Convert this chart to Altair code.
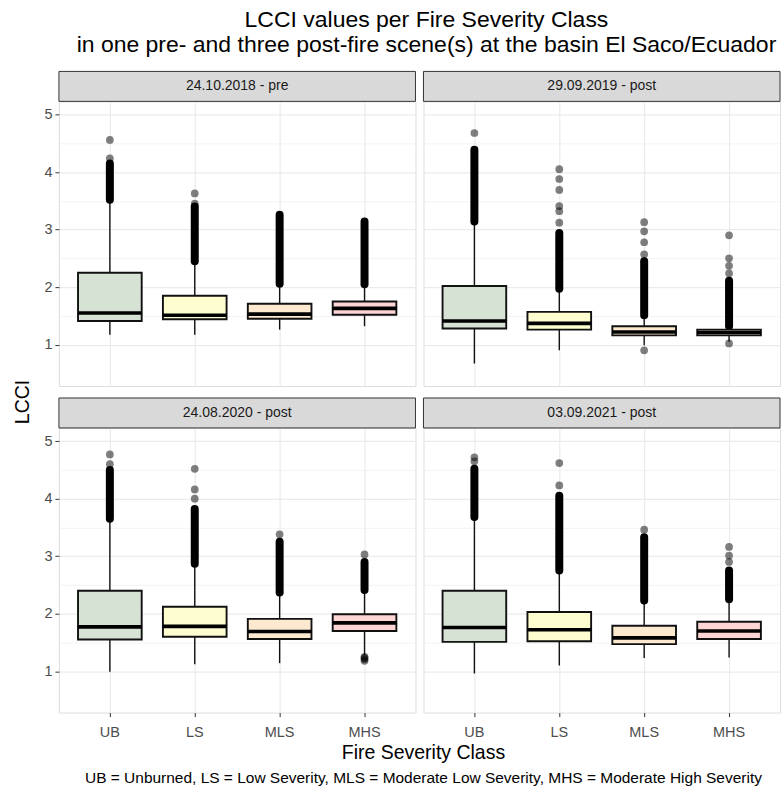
import altair as alt
import pandas as pd

# ---------------- data ----------------
panels = ["24.10.2018 - pre", "29.09.2019 - post", "24.08.2020 - post", "03.09.2021 - post"]
classes = ["UB", "LS", "MLS", "MHS"]
fill_colors = ["#d6e2d3", "#fdfdd0", "#fde9d0", "#fdd5d5"]

# box statistics, panel-major order (UB, LS, MLS, MHS per panel)
lower = [1.17, 1.17, 1.26, 1.32, 0.67, 0.90, 0.99, 1.05, 0.99, 1.12, 1.14, 1.28, 0.96, 1.10, 1.23, 1.24]
q1 = [1.41, 1.44, 1.45, 1.52, 1.28, 1.26, 1.16, 1.16, 1.55, 1.60, 1.56, 1.70, 1.51, 1.52, 1.47, 1.56]
median = [1.55, 1.51, 1.53, 1.63, 1.41, 1.37, 1.22, 1.21, 1.77, 1.78, 1.69, 1.84, 1.76, 1.72, 1.58, 1.70]
q3 = [2.25, 1.85, 1.71, 1.75, 2.02, 1.57, 1.32, 1.26, 2.40, 2.12, 1.91, 1.99, 2.40, 2.03, 1.79, 1.86]
upper = [3.52, 2.45, 2.06, 2.05, 3.14, 1.97, 1.51, 1.32, 3.65, 2.87, 2.37, 2.41, 3.68, 2.75, 2.23, 2.25]
# upper end of the dense run of outliers above the whisker
dense_top = [4.15, 3.40, 3.26, 3.14, 4.39, 2.94, 2.45, 2.11, 4.50, 3.82, 3.25, 2.90, 4.52, 4.05, 3.33, 2.75]

# individual (sparse) outliers
out_panel = [0, 0, 0, 0,
             1, 1, 1, 1, 1, 1, 1, 1, 1, 1, 1, 1, 1, 1, 1, 1, 1,
             2, 2, 2, 2, 2, 2, 2, 2, 2, 2, 2,
             3, 3, 3, 3, 3, 3, 3, 3]
out_class = ["UB", "UB", "LS", "LS",
             "UB", "LS", "LS", "LS", "LS", "LS", "LS", "MLS", "MLS", "MLS", "MLS", "MLS", "MHS", "MHS", "MHS", "MHS", "MHS",
             "UB", "UB", "LS", "LS", "LS", "MLS", "MHS", "MHS", "MHS", "MHS", "MHS",
             "UB", "UB", "LS", "LS", "MLS", "MHS", "MHS", "MHS"]
out_value = [4.56, 4.24, 3.63, 3.45,
             4.68, 3.12, 3.32, 3.41, 3.69, 3.88, 4.05, 2.57, 2.78, 2.97, 3.13, 0.90, 2.24, 2.37, 2.50, 2.90, 1.02,
             4.60, 4.77, 4.00, 4.16, 4.52, 3.38, 3.03, 1.25, 1.23, 1.21, 1.18,
             4.65, 4.72, 4.23, 4.62, 3.46, 2.90, 3.01, 3.16]

title_lines = ["LCCI values per Fire Severity Class",
               "in one pre- and three post-fire scene(s) at the basin El Saco/Ecuador"]
y_title = ["LCCI"]
x_title = ["Fire Severity Class"]
caption = ["UB = Unburned, LS = Low Severity, MLS = Moderate Low Severity, MHS = Moderate High Severity"]
y_ticks = [1, 1.5, 2, 2.5, 3, 3.5, 4, 4.5, 5]

# ---------------- tables ----------------
stats = pd.DataFrame({
    "panel": [p for p in panels for _ in classes],
    "cls": classes * len(panels),
    "lo": lower, "q1": q1, "med": median, "q3": q3, "hi": upper, "dtop": dense_top,
})
outs = pd.DataFrame({"panel": [panels[i] for i in out_panel], "cls": out_class, "value": out_value})

W, H = 357, 285
FONT = "Liberation Sans"
GRID = "#ebebeb"

y_scale = alt.Scale(domain=[0.28, 5.23], nice=False, zero=False)
x_scale = alt.Scale(domain=classes, paddingInner=0, paddingOuter=0.1)


def xenc(show):
    return alt.X("cls:N", sort=classes, scale=x_scale,
                 axis=alt.Axis(title=None, labels=show, ticks=show, domain=False, grid=True,
                               gridColor=GRID, gridWidth=1.2, bandPosition=0.5, labelAngle=0,
                               tickColor="#333333", tickSize=4, tickWidth=1, labelFontSize=14.5,
                               labelColor="#4d4d4d", labelPadding=9, labelFont=FONT))


def yenc(field, show):
    return alt.Y(f"{field}:Q", scale=y_scale,
                 axis=alt.Axis(values=y_ticks, title=None, labels=show, ticks=show, domain=False,
                               labelExpr="datum.value % 1 === 0 ? format(datum.value, 'd') : ''",
                               tickOpacity={"condition": {"test": "datum.value % 1 !== 0", "value": 0}, "value": 1},
                               gridWidth={"condition": {"test": "datum.value % 1 !== 0", "value": 0.6}, "value": 1.2},
                               gridColor=GRID, tickColor="#333333", tickSize=4, tickWidth=1,
                               labelFontSize=14.5, labelColor="#4d4d4d", labelPadding=3, labelFont=FONT))


def panel(i):
    name = panels[i]
    bottom = i >= 2
    left = i % 2 == 0
    st = stats[stats.panel == name]
    ot = outs[outs.panel == name]
    lab = pd.DataFrame({"label": [name]})

    strip_bg = alt.Chart(lab).mark_rect(fill="#d9d9d9", stroke="#333333", strokeWidth=1).encode(
        x=alt.value(0), x2=alt.value(W), y=alt.value(-30), y2=alt.value(0))
    strip_tx = alt.Chart(lab).mark_text(font=FONT, fontSize=14, color="#1a1a1a", baseline="middle").encode(
        x=alt.value(W / 2), y=alt.value(-15), text="label:N")

    base = alt.Chart(st)
    whisk = base.mark_rule(color="#111111", strokeWidth=1.4).encode(
        x=xenc(bottom), y=yenc("lo", left), y2="hi:Q")
    box = base.mark_bar(width={"band": 0.75}, stroke="#111111", strokeWidth=1.9).encode(
        x=xenc(bottom), y=yenc("q1", left), y2="q3:Q",
        fill=alt.Fill("cls:N", scale=alt.Scale(domain=classes, range=fill_colors), legend=None))
    med = base.mark_tick(size=64, thickness=3.6, color="#000000", opacity=1).encode(
        x=xenc(bottom), y=yenc("med", left))
    dense = base.mark_rule(strokeWidth=8, strokeCap="round", color="#000000", opacity=1).encode(
        x=xenc(bottom), y=yenc("hi", left), y2="dtop:Q")
    pts = alt.Chart(ot).mark_circle(size=60, color="#000000", opacity=0.5).encode(
        x=xenc(bottom), y=yenc("value", left))

    layers = [strip_bg, strip_tx, whisk, dense, pts, box, med]

    if i == 0:
        tl = pd.DataFrame({"t": title_lines, "yy": [-81, -56]})
        title = alt.Chart(tl).mark_text(font=FONT, fontSize=23, color="#000000", baseline="middle").encode(
            x=alt.value(368), y=alt.Y("yy:Q", scale=None), text="t:N")
        layers.append(title)
    if i == 2:
        yt = alt.Chart(pd.DataFrame({"t": y_title})).mark_text(
            font=FONT, fontSize=19.5, color="#000000", angle=270, baseline="middle").encode(
            x=alt.value(-36), y=alt.value(-26), text="t:N")
        xt = alt.Chart(pd.DataFrame({"t": x_title})).mark_text(
            font=FONT, fontSize=19.5, color="#000000", baseline="middle").encode(
            x=alt.value(W + 8), y=alt.value(H + 40), text="t:N")
        cp = alt.Chart(pd.DataFrame({"t": caption})).mark_text(
            font=FONT, fontSize=15.5, color="#000000", baseline="middle").encode(
            x=alt.value(W + 8), y=alt.value(H + 65), text="t:N")
        layers += [yt, xt, cp]

    return alt.layer(*layers).properties(width=W, height=H)


chart = alt.concat(panel(0), panel(1), panel(2), panel(3), columns=2,
                   spacing={"row": 42, "column": 8}, bounds="flush").properties(
    padding={"left": 12, "top": 8, "right": 0, "bottom": 0}
).configure_view(
    stroke="#333333", strokeWidth=1
).configure(font=FONT, background="white")

chart.save("out.html", embed_options={"renderer": "svg", "actions": False})
